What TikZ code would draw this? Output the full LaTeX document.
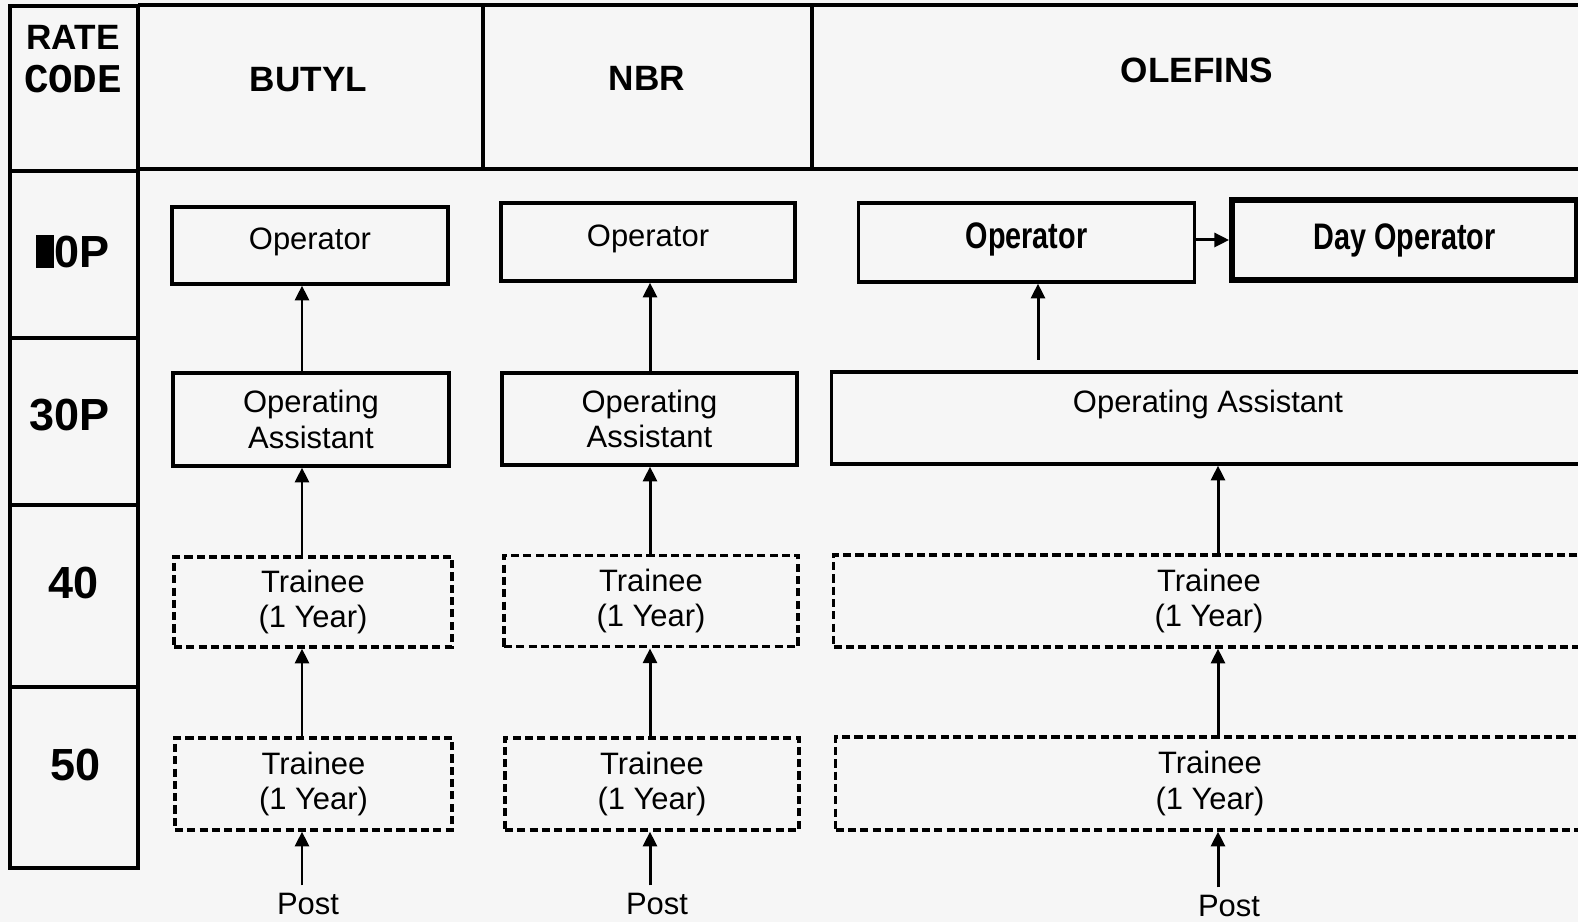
\documentclass[tikz,border=0pt]{standalone}
\usepackage{fontspec}
\setmainfont{Liberation Sans}
\newfontfamily\narrowfont[FakeStretch=0.78]{Liberation Sans}
\newfontfamily\codefont{Liberation Mono}
\usetikzlibrary{arrows.meta, positioning}
\definecolor{paper}{RGB}{246,246,246}

\begin{document}
\begin{tikzpicture}[
        x=0.01cm, y=-0.01cm,
        txt/.style={font=\fontsize{8.8}{10}\selectfont},
        heading/.style={font=\bfseries\fontsize{10}{12}\selectfont, inner sep=0pt},
        ratecode/.style={font=\bfseries\fontsize{12.8}{14}\selectfont, inner sep=0pt},
        grid/.style={line width=1pt},
        jobbox/.style={draw, line width=0.95pt, inner sep=0pt, txt},
        twoline/.style={jobbox, align=center},
        trainee/.style={twoline, dash pattern=on 2.3pt off 1.2pt},
        boldjob/.style={jobbox, font=\narrowfont\bfseries\fontsize{10.5}{12}\selectfont},
        dayjob/.style={boldjob, line width=1.6pt},
        promote/.style={-{Triangle[length=4.2pt,width=4pt]}, line width=0.85pt},
        entry/.style={txt, inner sep=2pt}
    ]
    \useasboundingbox (0,0) rectangle (1578,922);
    \fill[paper] (0,0) rectangle (1578,922);
    \clip (0,0) rectangle (1578,922);

    % rate code column and header row
    \draw[grid] (10,6) rectangle (138,868);
    \foreach \yy in {171,338,505,687}
        \draw[grid] (10,\yy) -- (138,\yy);
    \draw[grid] (138,5) -- (1600,5);
    \draw[grid] (138,169) -- (1600,169);
    \draw[grid] (138,5) -- (138,169);
    \draw[grid] (483,5) -- (483,169);
    \draw[grid] (812,5) -- (812,169);

    \node[heading] (rateA) at (73,37.5) {RATE};
    \node[inner sep=0pt, font=\codefont\bfseries\fontsize{11.6}{12}\selectfont] (rateB) at (73,79.5) {CODE};
    \node[ratecode] (rc10) at (73,251.5) {\rule{0.18cm}{0.33cm}0P};
    \node[ratecode] (rc30) at (69.5,415.5) {30P};
    \node[ratecode] (rc40) at (73.5,583.5) {40};
    \node[ratecode] (rc50) at (76,765) {50};

    \node[heading] (hButyl) at (308.5,79.5) {BUTYL};
    \node[heading] (hNbr) at (647,78.5) {NBR};
    \node[heading] (hOlefins) at (1197,70.5) {OLEFINS};

    % butyl
    \coordinate (buCol) at (302,0);
    \node[jobbox, minimum width=2.76cm, minimum height=0.77cm, text height=6.4pt, text depth=4.1pt] (buOp) at (310,245.5) {Operator};
    \node[twoline, minimum width=2.76cm, minimum height=0.93cm] (buOA) at (311,419.5) {Operating\\Assistant};
    \node[trainee, minimum width=2.78cm, minimum height=0.90cm] (buTrA) at (313,602) {Trainee\\(1 Year)};
    \node[trainee, minimum width=2.77cm, minimum height=0.92cm] (buTrB) at (313.5,784) {Trainee\\(1 Year)};
    \node[entry] (buPost) at (308,904) {Post};
    \draw[promote] (buOA.north -| buCol) -- (buOp.south -| buCol);
    \draw[promote] (buTrA.north -| buCol) -- (buOA.south -| buCol);
    \draw[promote] (buTrB.north -| buCol) -- (buTrA.south -| buCol);
    \draw[promote] (buPost.north -| buCol) -- (buTrB.south -| buCol);

    % nbr
    \coordinate (nbCol) at (650,0);
    \node[jobbox, minimum width=2.94cm, minimum height=0.78cm, text height=6.4pt, text depth=4.1pt] (nbOp) at (648,242) {Operator};
    \node[twoline, minimum width=2.95cm, minimum height=0.92cm] (nbOA) at (649.5,419) {Operating\\Assistant};
    \node[trainee, minimum width=2.94cm, minimum height=0.915cm] (nbTrA) at (651,601) {Trainee\\(1 Year)};
    \node[trainee, minimum width=2.94cm, minimum height=0.92cm] (nbTrB) at (652,784) {Trainee\\(1 Year)};
    \node[entry] (nbPost) at (657,904) {Post};
    \draw[promote] (nbOA.north -| nbCol) -- (nbOp.south -| nbCol);
    \draw[promote] (nbTrA.north -| nbCol) -- (nbOA.south -| nbCol);
    \draw[promote] (nbTrB.north -| nbCol) -- (nbTrA.south -| nbCol);
    \draw[promote] (nbPost.north -| nbCol) -- (nbTrB.south -| nbCol);

    % olefins
    \coordinate (olCol) at (1218,0);
    \coordinate (olFoot) at (1038,360);
    \node[boldjob, minimum width=3.36cm, minimum height=0.79cm, text height=7.6pt, text depth=4pt] (olOp) at (1026.5,242.5) {Operator};
    \node[dayjob, minimum width=3.45cm, minimum height=0.80cm] (olDay) at (1404.5,240) {Day Operator};
    \node[jobbox, minimum width=7.52cm, minimum height=0.92cm, text height=6.4pt, text depth=9.8pt] (olOA) at (1208,418) {Operating Assistant};
    \node[trainee, minimum width=7.50cm, minimum height=0.92cm] (olTrA) at (1209,601) {Trainee\\(1 Year)};
    \node[trainee, minimum width=7.48cm, minimum height=0.93cm] (olTrB) at (1210,783.5) {Trainee\\(1 Year)};
    \node[entry] (olPost) at (1229,906) {Post};
    \draw[promote] (olOp.east |- olDay.west) -- (olDay.west);
    \draw[promote] (olFoot) -- (olFoot |- olOp.south);
    \draw[promote] (olTrA.north -| olCol) -- (olOA.south -| olCol);
    \draw[promote] (olTrB.north -| olCol) -- (olTrA.south -| olCol);
    \draw[promote] (olPost.north -| olCol) -- (olTrB.south -| olCol);
\end{tikzpicture}
\end{document}
